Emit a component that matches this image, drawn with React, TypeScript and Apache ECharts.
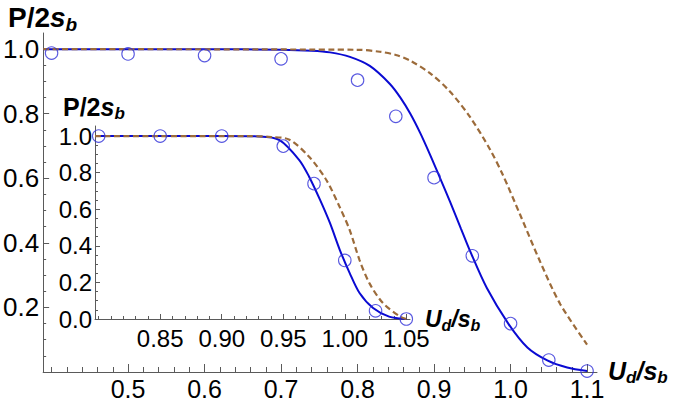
import React, { useEffect, useRef } from "react";
import * as echarts from "echarts";

// ---------- data ----------
// main plot: simulation points
const mainPointX = [0.4, 0.5, 0.6, 0.7, 0.8, 0.85, 0.9, 0.95, 1.0, 1.05, 1.1];
const mainPointP = [0.988, 0.985, 0.98, 0.97, 0.904, 0.792, 0.602, 0.36, 0.15, 0.037, 0.003];
// main plot: solid blue curve
const mainBlueX = [0.389, 0.6, 0.7, 0.74, 0.764, 0.79, 0.816, 0.842, 0.856, 0.869, 0.882, 0.895, 0.908, 0.921, 0.935, 0.947, 0.969, 0.997, 1.022, 1.048, 1.074, 1.1];
const mainBlueP = [1.0, 1.0, 0.998, 0.995, 0.99, 0.976, 0.948, 0.893, 0.85, 0.8, 0.74, 0.672, 0.6, 0.527, 0.445, 0.375, 0.26, 0.15, 0.076, 0.036, 0.014, 0.003];
// main plot: dashed brown curve
const mainBrownX = [0.389, 0.8, 0.829, 0.85, 0.869, 0.895, 0.921, 0.947, 0.973, 0.99, 1.012, 1.039, 1.065, 1.1];
const mainBrownP = [1.0, 0.998, 0.992, 0.982, 0.964, 0.925, 0.868, 0.79, 0.69, 0.61, 0.49, 0.34, 0.21, 0.085];

// inset: simulation points
const insetPointX = [0.8, 0.85, 0.9, 0.95, 0.975, 1.0, 1.025, 1.05];
const insetPointP = [1.0, 1.0, 1.0, 0.945, 0.74, 0.32, 0.045, 0.0];
// inset: solid blue curve
const insetBlueX = [0.797, 0.9, 0.931, 0.947, 0.963, 0.971, 0.98, 0.988, 0.996, 1.004, 1.012, 1.023, 1.036, 1.05];
const insetBlueP = [1.0, 1.0, 0.998, 0.978, 0.869, 0.778, 0.65, 0.524, 0.377, 0.251, 0.142, 0.06, 0.013, 0.0];
// inset: dashed brown curve
const insetBrownX = [0.797, 0.92, 0.94, 0.955, 0.971, 0.985, 0.996, 1.004, 1.012, 1.02, 1.031, 1.045, 1.05];
const insetBrownP = [1.0, 1.0, 0.995, 0.98, 0.887, 0.76, 0.61, 0.486, 0.322, 0.196, 0.087, 0.013, 0.0];

// ---------- ticks ----------
const mainXMajor = [0.5, 0.6, 0.7, 0.8, 0.9, 1.0, 1.1];
const mainXMinor = [0.4, 0.42, 0.44, 0.46, 0.48, 0.5, 0.52, 0.54, 0.56, 0.58, 0.6, 0.62, 0.64, 0.66, 0.68, 0.7, 0.72, 0.74, 0.76, 0.78, 0.8, 0.82, 0.84, 0.86, 0.88, 0.9, 0.92, 0.94, 0.96, 0.98, 1.0, 1.02, 1.04, 1.06, 1.08, 1.1];
const mainYMajor = [0.2, 0.4, 0.6, 0.8, 1.0];
const mainYMinor = [0.05, 0.1, 0.15, 0.2, 0.25, 0.3, 0.35, 0.4, 0.45, 0.5, 0.55, 0.6, 0.65, 0.7, 0.75, 0.8, 0.85, 0.9, 0.95, 1.0];
const insetXMajor = [0.85, 0.9, 0.95, 1.0, 1.05];
const insetXMinor = [0.8, 0.81, 0.82, 0.83, 0.84, 0.85, 0.86, 0.87, 0.88, 0.89, 0.9, 0.91, 0.92, 0.93, 0.94, 0.95, 0.96, 0.97, 0.98, 0.99, 1.0, 1.01, 1.02, 1.03, 1.04, 1.05];
const insetYMajor = [0.0, 0.2, 0.4, 0.6, 0.8, 1.0];
const insetYMinor = [0.05, 0.1, 0.15, 0.2, 0.25, 0.3, 0.35, 0.4, 0.45, 0.5, 0.55, 0.6, 0.65, 0.7, 0.75, 0.8, 0.85, 0.9, 0.95, 1.0];

const FONT = '"Liberation Sans", Arial, sans-serif';
const AXIS_COLOR = "#5a5a5a";
const BLUE = "#0a0ad2";
const POINT_BLUE = "#3030d8";
const BROWN = "#9c6b3a";

const zip = (xs: number[], ys: number[]) => xs.map((x, i) => [x, ys[i]]);

function majorAxis(opts: any) {
  return {
    type: "value",
    gridIndex: opts.grid,
    min: opts.min,
    max: opts.max,
    position: opts.position,
    splitLine: { show: false },
    axisLine: { show: true, onZero: false, lineStyle: { color: AXIS_COLOR, width: 1 } },
    axisTick: {
      show: true,
      inside: true,
      length: opts.tickLen,
      customValues: opts.ticks,
      lineStyle: { color: AXIS_COLOR, width: 1 },
    },
    axisLabel: {
      show: true,
      customValues: opts.ticks,
      margin: opts.margin,
      color: "#000",
      fontFamily: FONT,
      fontSize: opts.fontSize,
      lineHeight: opts.fontSize,
      formatter: (v: number) => v.toFixed(opts.digits),
    },
  };
}

function minorAxis(opts: any) {
  return {
    type: "value",
    gridIndex: opts.grid,
    min: opts.min,
    max: opts.max,
    position: opts.position,
    splitLine: { show: false },
    axisLine: { show: false, onZero: false },
    axisTick: {
      show: true,
      inside: true,
      length: opts.tickLen,
      customValues: opts.ticks,
      lineStyle: { color: AXIS_COLOR, width: 1 },
    },
    axisLabel: { show: false },
  };
}

function titleText(x: number, y: number, main: string, sub1: string | null, mid: string, sub2: string, size: number, italicMain: boolean) {
  const subSize = Math.round(size * 0.68);
  const lh = Math.round(size * 1.2);
  const text = italicMain
    ? `{i|${main}}{s|${sub1}}{i|${mid}}{s|${sub2}}`
    : `{n|${main}}{i|${mid}}{s|${sub2}}`;
  return {
    type: "text",
    x,
    y,
    z: 100,
    style: {
      text,
      fill: "#000",
      verticalAlign: "top",
      rich: {
        n: { fontFamily: FONT, fontSize: size, fontWeight: "bold", lineHeight: lh, fill: "#000" },
        i: { fontFamily: FONT, fontSize: size, fontWeight: "bold", fontStyle: "italic", lineHeight: lh, fill: "#000" },
        s: {
          fontFamily: FONT,
          fontSize: subSize,
          fontWeight: "bold",
          fontStyle: "italic",
          lineHeight: Math.round(lh * 0.66),
          verticalAlign: "bottom",
          fill: "#000",
        },
      },
    },
  };
}

export default function App() {
  const ref = useRef<HTMLDivElement>(null);

  useEffect(() => {
    if (!ref.current) return;
    const chart = echarts.init(ref.current, undefined, { renderer: "svg" });

    const lineSeries = (data: number[][], xi: number, yi: number, color: string, dashed: boolean, z: number) => ({
      type: "line",
      xAxisIndex: xi,
      yAxisIndex: yi,
      data,
      showSymbol: false,
      symbol: "none",
      smooth: 0.3,
      z,
      lineStyle: { color, width: dashed ? 2.2 : 2, type: dashed ? [6, 3.5] : "solid" },
      emphasis: { disabled: true },
      silent: true,
    });

    const pointSeries = (data: number[][], xi: number, yi: number) => ({
      type: "scatter",
      xAxisIndex: xi,
      yAxisIndex: yi,
      data,
      symbol: "circle",
      symbolSize: 12.5,
      z: 5,
      itemStyle: { color: "rgba(0,0,0,0)", borderColor: POINT_BLUE, borderWidth: 1.1 },
      emphasis: { disabled: true },
      silent: true,
    });

    chart.setOption({
      animation: false,
      backgroundColor: "#fff",
      grid: [
        { left: 43, top: 33, width: 554, height: 339 },
        { left: 95, top: 126, width: 315, height: 193 },
      ],
      xAxis: [
        majorAxis({ grid: 0, min: 0.389, max: 1.113, position: "bottom", tickLen: 8, ticks: mainXMajor, margin: 4, fontSize: 25, digits: 1 }),
        minorAxis({ grid: 0, min: 0.389, max: 1.113, position: "bottom", tickLen: 5, ticks: mainXMinor }),
        majorAxis({ grid: 1, min: 0.797, max: 1.053, position: "bottom", tickLen: 5, ticks: insetXMajor, margin: 7, fontSize: 24, digits: 2 }),
        minorAxis({ grid: 1, min: 0.797, max: 1.053, position: "bottom", tickLen: 3, ticks: insetXMinor }),
      ],
      yAxis: [
        majorAxis({ grid: 0, min: 0, max: 1.05, position: "left", tickLen: 6, ticks: mainYMajor, margin: 4, fontSize: 26, digits: 1 }),
        minorAxis({ grid: 0, min: 0, max: 1.05, position: "left", tickLen: 3, ticks: mainYMinor }),
        majorAxis({ grid: 1, min: 0, max: 1.055, position: "left", tickLen: 5, ticks: insetYMajor, margin: 3, fontSize: 24, digits: 1 }),
        minorAxis({ grid: 1, min: 0, max: 1.055, position: "left", tickLen: 3, ticks: insetYMinor }),
      ],
      series: [
        lineSeries(zip(mainBlueX, mainBlueP), 0, 0, BLUE, false, 2),
        lineSeries(zip(mainBrownX, mainBrownP), 0, 0, BROWN, true, 3),
        pointSeries(zip(mainPointX, mainPointP), 0, 0),
        lineSeries(zip(insetBlueX, insetBlueP), 2, 2, BLUE, false, 2),
        lineSeries(zip(insetBrownX, insetBrownP), 2, 2, BROWN, true, 3),
        pointSeries(zip(insetPointX, insetPointP), 2, 2),
      ],
      graphic: [
        titleText(8, 0, "P/2", null, "s", "b", 28, false),
        titleText(63, 92, "P/2", null, "s", "b", 25, false),
        titleText(608, 356, "U", "d", "/s", "b", 25, true),
        titleText(425, 305, "U", "d", "/s", "b", 23, true),
      ],
    });

    return () => chart.dispose();
  }, []);

  return (
    <div
      ref={ref}
      style={{ position: "absolute", left: 0, top: 0, width: 677, height: 403 }}
    />
  );
}
